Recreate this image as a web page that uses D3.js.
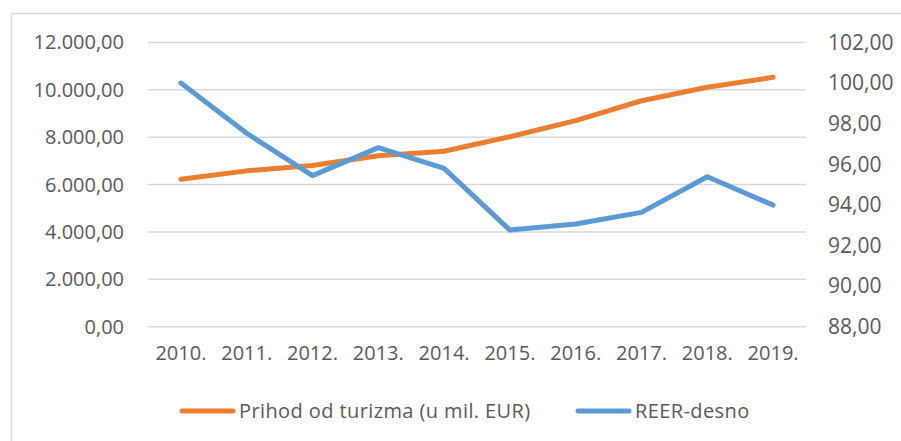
<!DOCTYPE html>
<html>
<head>
<meta charset="utf-8">
<script src="https://cdn.jsdelivr.net/npm/d3@7"></script>
<style>
  body { margin: 0; background: #fff; }
  text { font-family: "Open Sans", sans-serif; fill: #595959; }
</style>
</head>
<body>
<svg class="chart"></svg>
<script>
var years = ["2010.", "2011.", "2012.", "2013.", "2014.", "2015.", "2016.", "2017.", "2018.", "2019."];
var prihod = [6224, 6580, 6810, 7220, 7410, 8020, 8700, 9540, 10110, 10530];
var reer = [100.0, 97.53, 95.44, 96.82, 95.8, 92.76, 93.06, 93.63, 95.39, 93.99];
var leftTicks = [0, 2000, 4000, 6000, 8000, 10000, 12000];
var rightTicks = [88, 90, 92, 94, 96, 98, 100, 102];

var width = 901,
    height = 441;

var svg = d3.select(".chart")
  .attr("width", width)
  .attr("height", height);

// outer chart frame (continues past the right and bottom edge)
svg.append("rect")
  .attr("x", 11.5).attr("y", 13.5)
  .attr("width", 1000).attr("height", 1000)
  .attr("fill", "none")
  .attr("stroke", "#d9d9d9")
  .attr("stroke-width", 1.5);

var x = d3.scaleBand().domain(years).range([148, 806]);
var yL = d3.scaleLinear().domain([0, 12000]).range([326.7, 42.5]);
var yR = d3.scaleLinear().domain([88, 102]).range([326.7, 42.5]);

var fmt = d3.formatLocale({ decimal: ",", thousands: ".", grouping: [3], currency: ["", ""] }).format(",.2f");

// gridlines
svg.append("g")
  .selectAll("line")
  .data(leftTicks)
  .enter().append("line")
    .attr("x1", 148).attr("x2", 806)
    .attr("y1", d => yL(d)).attr("y2", d => yL(d))
    .attr("stroke", "#d9d9d9")
    .attr("stroke-width", 1.5);

var axL = svg.append("g")
  .attr("transform", "translate(124,0)")
  .call(d3.axisLeft(yL).tickValues(leftTicks).tickFormat(fmt).tickSize(0).tickPadding(0));
var axR = svg.append("g")
  .attr("transform", "translate(828,0)")
  .call(d3.axisRight(yR).tickValues(rightTicks).tickFormat(fmt).tickSize(0).tickPadding(0));
var axX = svg.append("g")
  .attr("transform", "translate(0,346)")
  .call(d3.axisBottom(x).tickSize(0).tickPadding(0));

[axL, axR, axX].forEach(a => {
  a.select(".domain").remove();
  a.selectAll("text").attr("font-size", 20).attr("fill", "#595959")
    .style("font-family", "'Open Sans', sans-serif");
});
axR.selectAll("text").attr("font-size", 21);

var lineL = d3.line().x((d, i) => x(years[i]) + x.bandwidth() / 2).y(d => yL(d));
var lineR = d3.line().x((d, i) => x(years[i]) + x.bandwidth() / 2).y(d => yR(d));

svg.append("path")
  .datum(prihod)
  .attr("d", lineL)
  .attr("fill", "none")
  .attr("stroke", "#ED7D31")
  .attr("stroke-width", 5)
  .attr("stroke-linecap", "round")
  .attr("stroke-linejoin", "round");

svg.append("path")
  .datum(reer)
  .attr("d", lineR)
  .attr("fill", "none")
  .attr("stroke", "#5B9BD5")
  .attr("stroke-width", 5)
  .attr("stroke-linecap", "round")
  .attr("stroke-linejoin", "round");

// legend
var legend = [
  { name: "Prihod od turizma (u mil. EUR)", color: "#ED7D31", x: 182 },
  { name: "REER-desno", color: "#5B9BD5", x: 578 }
];
var lg = svg.selectAll(".leg")
  .data(legend)
  .enter().append("g")
    .attr("class", "leg")
    .attr("transform", d => "translate(" + d.x + ",411)");
lg.append("line")
  .attr("x1", 0).attr("x2", 51)
  .attr("stroke", d => d.color)
  .attr("stroke-width", 5)
  .attr("stroke-linecap", "round");
lg.append("text")
  .attr("x", 57)
  .attr("dy", "0.35em")
  .attr("font-size", 20)
  .attr("letter-spacing", 0.4)
  .text(d => d.name);
</script>
</body>
</html>
